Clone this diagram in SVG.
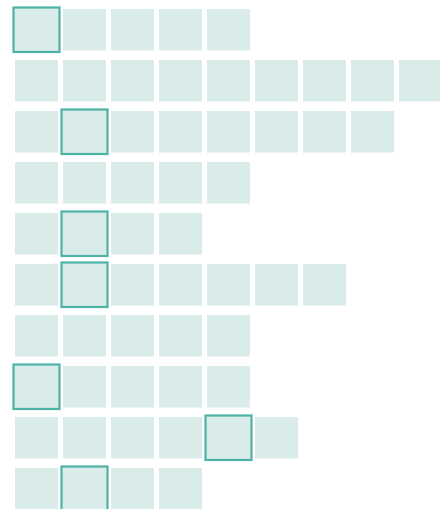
<svg xmlns="http://www.w3.org/2000/svg" width="440" height="509" viewBox="0 0 440 509">
<style>
.c{fill:#d9ecea}
.h{fill:#d9ecea;stroke:#4db3a7;stroke-width:2.2}
</style>
<defs>
<rect id="s" class="c" width="43" height="41.5"/>
<rect id="hl" class="h" width="46" height="44.5"/>
</defs>
<rect width="440" height="509" fill="#ffffff"/>
<g id="row1" transform="translate(15,9)">
<use href="#s" x="48"/><use href="#s" x="96"/><use href="#s" x="144"/><use href="#s" x="192"/>
<use href="#hl" x="-1.5" y="-1.5"/>
</g>
<g id="row2" transform="translate(15,60)">
<use href="#s" x="0"/><use href="#s" x="48"/><use href="#s" x="96"/><use href="#s" x="144"/><use href="#s" x="192"/><use href="#s" x="240"/><use href="#s" x="288"/><use href="#s" x="336"/><use href="#s" x="384"/>
</g>
<g id="row3" transform="translate(15,111)">
<use href="#s" x="0"/><use href="#s" x="96"/><use href="#s" x="144"/><use href="#s" x="192"/><use href="#s" x="240"/><use href="#s" x="288"/><use href="#s" x="336"/>
<use href="#hl" x="46.5" y="-1.5"/>
</g>
<g id="row4" transform="translate(15,162)">
<use href="#s" x="0"/><use href="#s" x="48"/><use href="#s" x="96"/><use href="#s" x="144"/><use href="#s" x="192"/>
</g>
<g id="row5" transform="translate(15,213)">
<use href="#s" x="0"/><use href="#s" x="96"/><use href="#s" x="144"/>
<use href="#hl" x="46.5" y="-1.5"/>
</g>
<g id="row6" transform="translate(15,264)">
<use href="#s" x="0"/><use href="#s" x="96"/><use href="#s" x="144"/><use href="#s" x="192"/><use href="#s" x="240"/><use href="#s" x="288"/>
<use href="#hl" x="46.5" y="-1.5"/>
</g>
<g id="row7" transform="translate(15,315)">
<use href="#s" x="0"/><use href="#s" x="48"/><use href="#s" x="96"/><use href="#s" x="144"/><use href="#s" x="192"/>
</g>
<g id="row8" transform="translate(15,366)">
<use href="#s" x="48"/><use href="#s" x="96"/><use href="#s" x="144"/><use href="#s" x="192"/>
<use href="#hl" x="-1.5" y="-1.5"/>
</g>
<g id="row9" transform="translate(15,417)">
<use href="#s" x="0"/><use href="#s" x="48"/><use href="#s" x="96"/><use href="#s" x="144"/><use href="#s" x="240"/>
<use href="#hl" x="190.5" y="-1.5"/>
</g>
<g id="row10" transform="translate(15,468)">
<use href="#s" x="0"/><use href="#s" x="96"/><use href="#s" x="144"/>
<use href="#hl" x="46.5" y="-1.5"/>
</g>
<g id="connectors"/>
</svg>
